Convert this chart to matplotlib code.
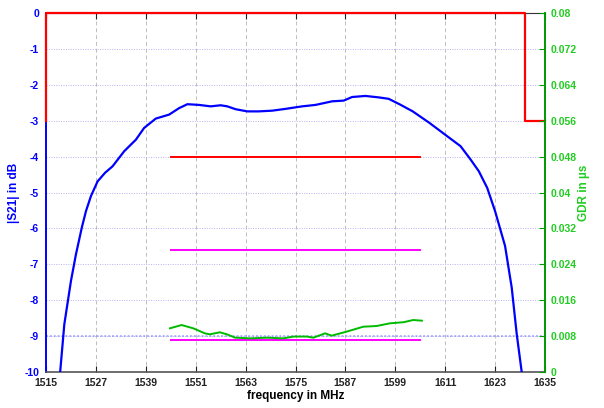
import matplotlib
matplotlib.use("Agg")
import matplotlib.pyplot as plt
from matplotlib.ticker import FormatStrFormatter

plt.rcParams['font.family'] = ['Liberation Sans', 'DejaVu Sans']
plt.rcParams['axes.unicode_minus'] = False

# |S21| in dB
s21_freq = [1518.4, 1519.4, 1521.0, 1522.2, 1523.6, 1524.6, 1525.8, 1527.4, 1529.2,
            1531.0, 1533.8, 1536.6, 1538.6, 1541.4, 1544.6, 1547.0, 1549.0, 1551.8,
            1554.6, 1557.0, 1558.6, 1560.6, 1563.4, 1566.2, 1569.4, 1572.6, 1576.6,
            1579.8, 1583.8, 1586.6, 1588.6, 1591.8, 1595.0, 1597.4, 1600.0, 1603.2,
            1607.2, 1611.0, 1614.7, 1617.1, 1619.1, 1621.1, 1623.0, 1625.4, 1627.0,
            1628.2, 1629.4]
s21_db = [-10.0, -8.67, -7.46, -6.72, -5.98, -5.52, -5.10, -4.69, -4.45,
          -4.27, -3.85, -3.53, -3.20, -2.94, -2.83, -2.65, -2.54, -2.56,
          -2.60, -2.57, -2.60, -2.68, -2.74, -2.74, -2.72, -2.67, -2.60,
          -2.56, -2.46, -2.44, -2.34, -2.31, -2.35, -2.39, -2.54, -2.74,
          -3.06, -3.39, -3.71, -4.08, -4.41, -4.87, -5.52, -6.49, -7.65,
          -8.94, -10.0]

# group delay ripple in us
gdr_freq = [1544.8, 1547.6, 1550.4, 1553.2, 1554.4, 1556.8, 1558.5, 1560.5, 1564.1,
            1568.1, 1572.1, 1574.5, 1577.7, 1579.3, 1582.1, 1583.7, 1587.3, 1591.3,
            1594.5, 1597.7, 1601.0, 1603.3, 1605.4]
gdr_us = [0.00974, 0.01047, 0.00974, 0.00862, 0.0084, 0.00885, 0.0084, 0.00765, 0.0075,
          0.00765, 0.0075, 0.0079, 0.0079, 0.00765, 0.00862, 0.0081, 0.009, 0.0101,
          0.01025, 0.01085, 0.0111, 0.01159, 0.01144]

# mask and spec lines
mask_freq = [1515, 1515, 1630.2, 1630.2, 1635]
mask_db = [-3, 0, 0, -3, -3]
spec_freq = [1545, 1605]
spec_red = -4.0
spec_mag = [-6.6, -9.1]

xticks = list(range(1515, 1636, 12))
yticks = list(range(-10, 1))
gdr_ticks = [i * 0.008 for i in range(11)]

blue = '#0000ff'
green = '#00bb00'

fig = plt.figure(figsize=(6.04, 4.08), dpi=100)
ax = fig.add_axes([0.0762, 0.0882, 0.8261, 0.8799])

for x in xticks[1:-1]:
    ax.axvline(x, color='#bdbdbd', ls=(0, (4, 3)), lw=0.7, zorder=0)
for y in yticks[1:-1]:
    ax.axhline(y, color='#b4b4f0', ls=(0, (1, 1.5)), lw=0.7, zorder=0)
ax.axhline(-9, color='#8080ff', ls=(0, (1, 1)), lw=1.4, alpha=0.6, zorder=0)

ax.plot(s21_freq, s21_db, color=blue, lw=1.6, zorder=3)
ax.plot(mask_freq, mask_db, color='#ff0000', lw=1.6, zorder=4, clip_on=False)
ax.plot(spec_freq, [spec_red, spec_red], color='#ff0000', lw=1.4, zorder=3)
for v in spec_mag:
    ax.plot(spec_freq, [v, v], color='#ff00ff', lw=1.4, zorder=3)

ax.set_xlim(1515, 1635)
ax.set_ylim(-10, 0)
ax.set_xticks(xticks)
ax.set_yticks(yticks)
ax.tick_params(axis='x', direction='in', top=True, length=4, labelsize=7.5,
               colors='#222222', pad=4)
ax.tick_params(axis='y', direction='in', length=0, labelsize=7.5,
               labelcolor=blue, pad=5)
for lab in ax.get_xticklabels() + ax.get_yticklabels():
    lab.set_fontweight('bold')
ax.spines['left'].set_color(blue)
ax.spines['left'].set_linewidth(1.4)
ax.spines['bottom'].set_color('#555555')
ax.spines['bottom'].set_linewidth(1.2)
ax.spines['top'].set_color('#333333')
ax.spines['right'].set_visible(False)
ax.set_xlabel('frequency in MHz', fontsize=8.5, fontweight='bold', labelpad=2)
ax.set_ylabel('|S21| in dB', fontsize=8.5, fontweight='bold', color=blue, labelpad=3)

ax2 = ax.twinx()
ax2.plot(gdr_freq, gdr_us, color=green, lw=1.4, zorder=3)
ax2.set_ylim(0, 0.08)
ax2.set_yticks(gdr_ticks)
ax2.yaxis.set_major_formatter(FormatStrFormatter('%g'))
ax2.tick_params(axis='y', direction='in', length=4, labelsize=7.5,
                colors='#009900', labelcolor='#22cc22', pad=4)
for lab in ax2.get_yticklabels():
    lab.set_fontweight('bold')
for s in ['left', 'top', 'bottom']:
    ax2.spines[s].set_visible(False)
ax2.spines['right'].set_color('#009900')
ax2.spines['right'].set_linewidth(1.4)
ax2.set_ylabel('GDR in µs', fontsize=8.5, fontweight='bold', color='#22cc22', labelpad=1)

fig.savefig('out.png', dpi=100)
